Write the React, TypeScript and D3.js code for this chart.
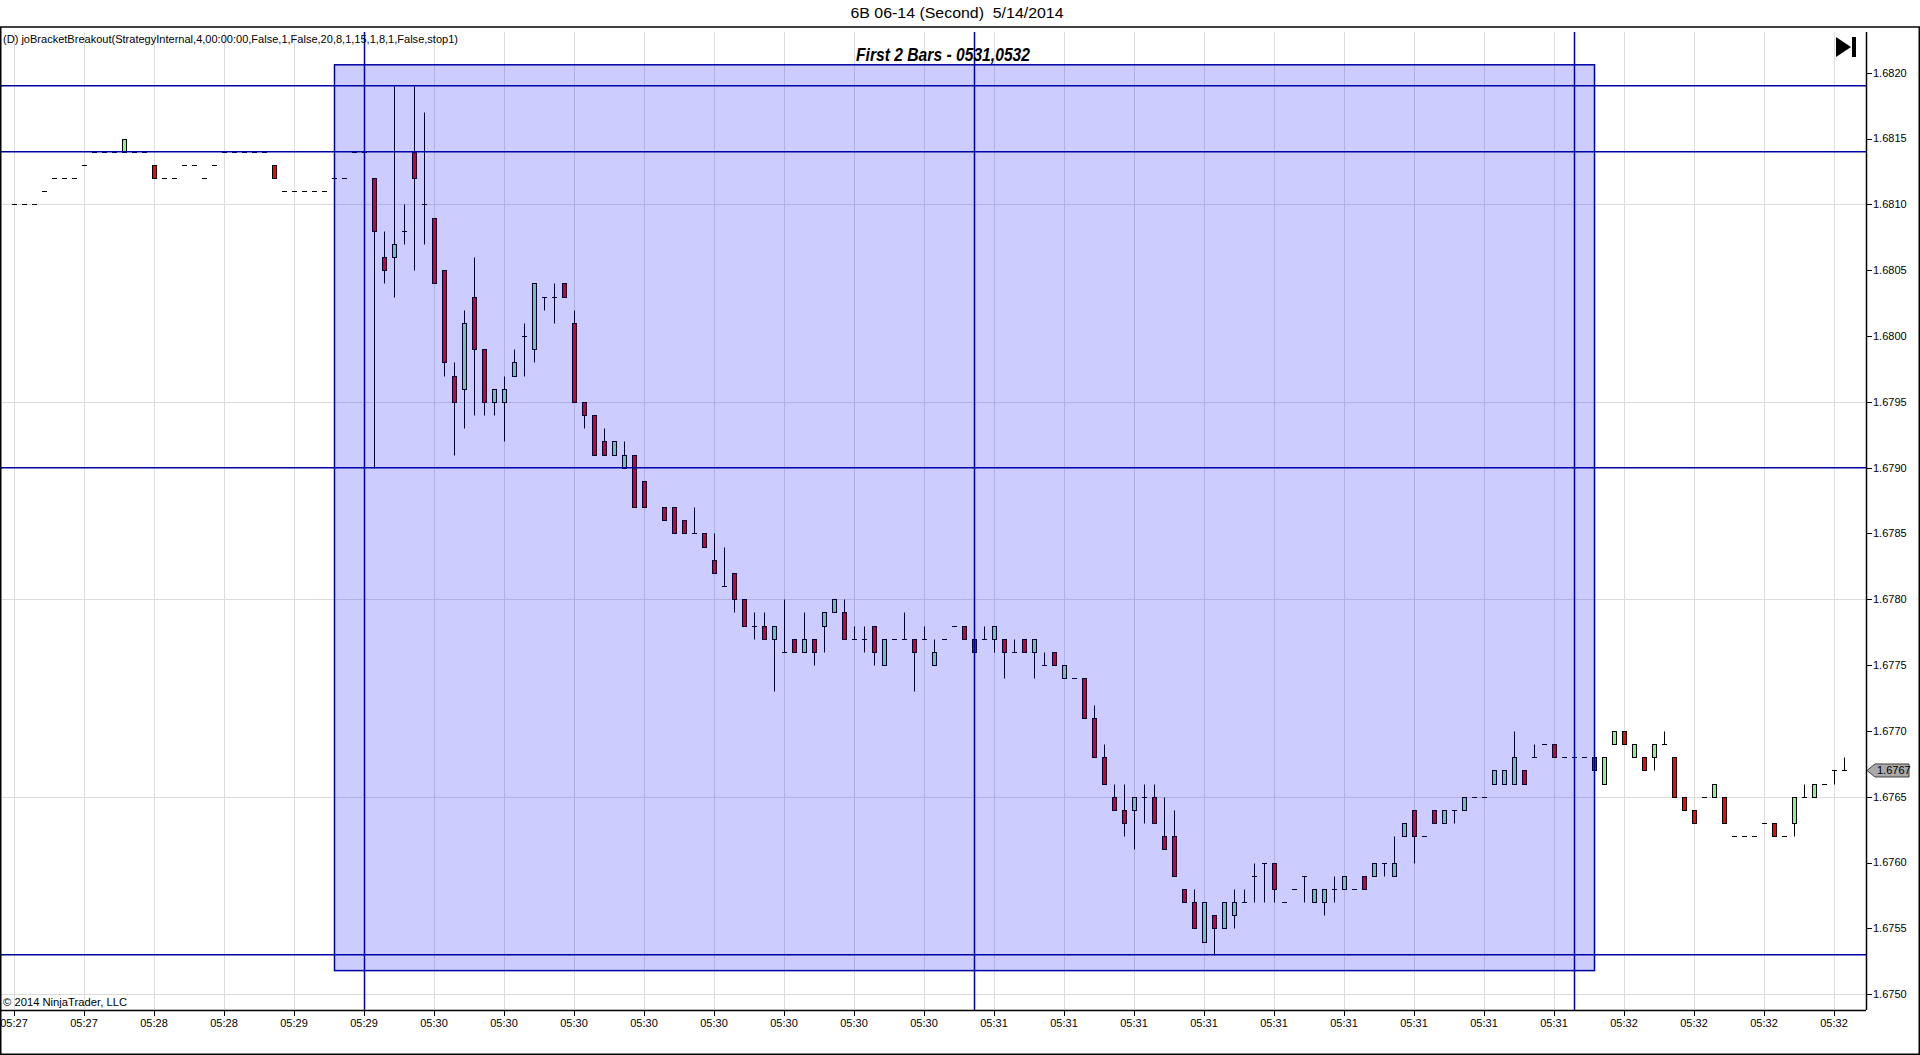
import React from 'react';
import * as d3 from 'd3';

const chartTitle = '6B 06-14 (Second)  5/14/2014';
const indicatorLabel = '(D) joBracketBreakout(StrategyInternal,4,00:00:00,False,1,False,20,8,1,15,1,8,1,False,stop1)';
const boxLabel = 'First 2 Bars - 0531,0532';
const copyrightText = '© 2014 NinjaTrader, LLC';
const lastPriceText = '1.6767';

const opens = [
  1.6810,1.6810,1.6810,1.6811,1.6812,1.6812,1.6812,1.6813,1.6814,1.6814,
  1.6814,1.6814,1.6814,1.6814,1.6813,1.6812,1.6812,1.6813,1.6813,1.6812,
  1.6813,1.6814,1.6814,1.6814,1.6814,1.6814,1.6813,1.6811,1.6811,1.6811,
  1.6811,1.6811,1.6812,1.6812,1.6814,1.6814,1.6812,1.6806,1.6806,1.6808,
  1.6814,1.6810,1.6809,1.6805,1.6797,1.6796,1.6803,1.6799,1.6795,1.6795,
  1.6797,1.6800,1.6799,1.6803,1.6803,1.6804,1.6801,1.6795,1.6794,1.6792,
  1.6791,1.6790,1.6791,1.6789,null,1.6787,1.6787,1.6786,1.6785,1.6785,
  1.6783,1.6781,1.6782,1.6780,1.6778,1.6778,1.6777,1.6776,1.6777,1.6776,
  1.6777,1.6778,1.6779,1.6779,1.6777,1.6777,1.6778,1.6775,1.6777,1.6777,
  1.6777,1.6777,1.6775,1.6777,1.6778,1.6778,1.6777,1.6777,1.6777,1.6777,
  1.6776,1.6777,1.6776,1.6775,1.6776,1.6774,1.6774,1.6774,1.6771,1.6768,
  1.6765,1.6764,1.6764,1.6765,1.6765,1.6762,1.6762,1.6758,1.6757,1.6754,
  1.6756,1.6755,1.6756,1.6757,1.6759,1.6760,1.6760,1.6757,1.6758,1.6759,
  1.6757,1.6757,1.6758,1.6758,1.6758,1.6759,1.6759,1.6760,1.6759,1.6762,
  1.6764,1.6762,1.6764,1.6763,1.6764,1.6764,1.6765,1.6765,1.6766,1.6766,
  1.6766,1.6767,1.6768,1.6769,1.6769,1.6768,1.6768,1.6768,1.6768,1.6766,
  1.6769,1.6770,1.6768,1.6768,1.6768,1.6769,1.6768,1.6765,1.6764,1.6765,
  1.6765,1.6765,1.6762,1.6762,1.6762,1.6763,1.6763,1.6762,1.6763,1.6765,
  1.6765,1.6766,1.6767,1.6767,
];
const highs = [
  1.6810,1.6810,1.6810,1.6811,1.6812,1.6812,1.6812,1.6813,1.6814,1.6814,
  1.6814,1.6815,1.6814,1.6814,1.6813,1.6812,1.6812,1.6813,1.6813,1.6812,
  1.6813,1.6814,1.6814,1.6814,1.6814,1.6814,1.6813,1.6811,1.6811,1.6811,
  1.6811,1.6811,1.6812,1.6812,1.6814,1.6814,1.6812,1.6808,1.6819,1.6810,
  1.6819,1.6817,1.6809,1.6805,1.6798,1.6802,1.6806,1.6799,1.6796,1.6797,
  1.6799,1.6801,1.6804,1.6803,1.6804,1.6804,1.6802,1.6795,1.6794,1.6793,
  1.6792,1.6792,1.6791,1.6789,null,1.6787,1.6787,1.6786,1.6787,1.6785,
  1.6785,1.6784,1.6782,1.6780,1.6779,1.6779,1.6778,1.6780,1.6777,1.6779,
  1.6777,1.6779,1.6780,1.6780,1.6778,1.6778,1.6778,1.6777,1.6777,1.6779,
  1.6777,1.6778,1.6777,1.6777,1.6778,1.6778,1.6777,1.6778,1.6778,1.6777,
  1.6777,1.6777,1.6777,1.6776,1.6776,1.6775,1.6774,1.6774,1.6772,1.6769,
  1.6766,1.6766,1.6765,1.6766,1.6766,1.6765,1.6764,1.6758,1.6758,1.6757,
  1.6756,1.6757,1.6758,1.6758,1.6760,1.6760,1.6760,1.6757,1.6758,1.6759,
  1.6758,1.6758,1.6759,1.6759,1.6758,1.6759,1.6760,1.6760,1.6762,1.6763,
  1.6764,1.6762,1.6764,1.6764,1.6764,1.6765,1.6765,1.6765,1.6767,1.6767,
  1.6770,1.6767,1.6769,1.6769,1.6769,1.6768,1.6768,1.6768,1.6768,1.6768,
  1.6770,1.6770,1.6769,1.6768,1.6769,1.6770,1.6768,1.6765,1.6764,1.6765,
  1.6766,1.6765,1.6762,1.6762,1.6762,1.6763,1.6763,1.6762,1.6765,1.6766,
  1.6766,1.6766,1.6767,1.6768,
];
const lows = [
  1.6810,1.6810,1.6810,1.6811,1.6812,1.6812,1.6812,1.6813,1.6814,1.6814,
  1.6814,1.6814,1.6814,1.6814,1.6812,1.6812,1.6812,1.6813,1.6813,1.6812,
  1.6813,1.6814,1.6814,1.6814,1.6814,1.6814,1.6812,1.6811,1.6811,1.6811,
  1.6811,1.6811,1.6812,1.6812,1.6814,1.6814,1.6790,1.6804,1.6803,1.6807,
  1.6805,1.6807,1.6804,1.6797,1.6791,1.6793,1.6794,1.6794,1.6794,1.6792,
  1.6797,1.6797,1.6798,1.6802,1.6801,1.6803,1.6795,1.6793,1.6791,1.6791,
  1.6791,1.6790,1.6787,1.6787,null,1.6786,1.6785,1.6785,1.6785,1.6784,
  1.6782,1.6781,1.6779,1.6778,1.6777,1.6777,1.6773,1.6776,1.6776,1.6776,
  1.6775,1.6776,1.6779,1.6777,1.6777,1.6776,1.6775,1.6775,1.6777,1.6777,
  1.6773,1.6777,1.6775,1.6777,1.6778,1.6777,1.6776,1.6777,1.6776,1.6774,
  1.6776,1.6776,1.6774,1.6775,1.6775,1.6774,1.6774,1.6771,1.6768,1.6766,
  1.6764,1.6762,1.6761,1.6763,1.6763,1.6761,1.6759,1.6757,1.6755,1.6754,
  1.6753,1.6755,1.6755,1.6757,1.6757,1.6757,1.6757,1.6757,1.6758,1.6757,
  1.6757,1.6756,1.6757,1.6758,1.6758,1.6758,1.6759,1.6759,1.6759,1.6762,
  1.6760,1.6762,1.6763,1.6763,1.6763,1.6764,1.6765,1.6765,1.6766,1.6766,
  1.6766,1.6766,1.6768,1.6769,1.6768,1.6768,1.6768,1.6768,1.6767,1.6766,
  1.6769,1.6769,1.6768,1.6767,1.6767,1.6769,1.6765,1.6764,1.6763,1.6765,
  1.6765,1.6763,1.6762,1.6762,1.6762,1.6763,1.6762,1.6762,1.6762,1.6765,
  1.6765,1.6766,1.6766,1.6767,
];
const closes = [
  1.6810,1.6810,1.6810,1.6811,1.6812,1.6812,1.6812,1.6813,1.6814,1.6814,
  1.6814,1.6815,1.6814,1.6814,1.6812,1.6812,1.6812,1.6813,1.6813,1.6812,
  1.6813,1.6814,1.6814,1.6814,1.6814,1.6814,1.6812,1.6811,1.6811,1.6811,
  1.6811,1.6811,1.6812,1.6812,1.6814,1.6814,1.6808,1.6805,1.6807,1.6808,
  1.6812,1.6810,1.6804,1.6798,1.6795,1.6801,1.6799,1.6795,1.6796,1.6796,
  1.6798,1.6800,1.6804,1.6803,1.6803,1.6803,1.6795,1.6794,1.6791,1.6791,
  1.6792,1.6791,1.6787,1.6787,null,1.6786,1.6785,1.6785,1.6785,1.6784,
  1.6782,1.6781,1.6780,1.6778,1.6778,1.6777,1.6778,1.6776,1.6776,1.6777,
  1.6776,1.6779,1.6780,1.6777,1.6777,1.6777,1.6776,1.6777,1.6777,1.6777,
  1.6776,1.6777,1.6776,1.6777,1.6778,1.6777,1.6776,1.6777,1.6778,1.6776,
  1.6776,1.6776,1.6777,1.6775,1.6775,1.6775,1.6774,1.6771,1.6768,1.6766,
  1.6764,1.6763,1.6765,1.6765,1.6763,1.6761,1.6759,1.6757,1.6755,1.6757,
  1.6755,1.6757,1.6757,1.6757,1.6759,1.6760,1.6758,1.6757,1.6758,1.6759,
  1.6758,1.6758,1.6758,1.6759,1.6758,1.6758,1.6760,1.6760,1.6760,1.6763,
  1.6762,1.6762,1.6763,1.6764,1.6764,1.6765,1.6765,1.6765,1.6767,1.6767,
  1.6768,1.6766,1.6768,1.6769,1.6768,1.6768,1.6768,1.6768,1.6767,1.6768,
  1.6770,1.6769,1.6769,1.6767,1.6769,1.6769,1.6765,1.6764,1.6763,1.6765,
  1.6766,1.6763,1.6762,1.6762,1.6762,1.6763,1.6762,1.6762,1.6765,1.6765,
  1.6766,1.6766,1.6767,1.6767,
];

const timeLabels = [
  '05:27','05:27','05:28','05:28','05:29','05:29',
  '05:30','05:30','05:30','05:30','05:30','05:30','05:30','05:30',
  '05:31','05:31','05:31','05:31','05:31','05:31','05:31','05:31','05:31',
  '05:32','05:32','05:32','05:32',
];
const barsPerLabel = 7;
const priceTicks = d3.range(0, 15).map((k) => +(1.675 + k * 0.0005).toFixed(4));
const priceGrid = [1.675, 1.6765, 1.678, 1.6795, 1.681];
const bracketLevels = [1.6819, 1.6814, 1.679, 1.6753];
const markerBars = [35, 96, 156];
const boxBars = [32, 158];
const boxPrices = [1.67518, 1.68206];
const lastPrice = 1.6767;

const FONT = "'Liberation Sans', Arial, Helvetica, sans-serif";

export default function App() {
  React.useEffect(() => {
    document.body.style.margin = '0';
    document.body.style.overflow = 'hidden';
  }, []);

  const W = 1920;
  const H = 1055;
  const plotL = 0;
  const plotR = 1866;
  const plotT = 32;
  const plotB = 1010;

  const x = d3.scaleLinear().domain([0, 183]).range([14, 1844]);
  const y = d3.scaleLinear().domain([1.675, 1.682]).range([994.3, 72.7]);
  const px = (v: number) => Math.round(v) + 0.5;

  const blue = '#0000a8';
  const gridColor = '#dcdcdc';

  const gridXs = timeLabels.map((_, k) => x(k * barsPerLabel));

  const candles = opens.map((o, i) => {
    if (o == null) return null;
    const h = highs[i] as number;
    const l = lows[i] as number;
    const c = closes[i] as number;
    const cx = px(x(i));
    const yO = y(o);
    const yC = y(c);
    const flat = Math.abs(yO - yC) < 0.5;
    const top = px(Math.min(yO, yC));
    const bot = px(Math.max(yO, yC));
    return (
      <g key={i}>
        {h !== l && (
          <line x1={cx} x2={cx} y1={px(y(h))} y2={px(y(l))} stroke="#000" strokeWidth={1} />
        )}
        {flat ? (
          <line x1={cx - 2.5} x2={cx + 2.5} y1={px(yO)} y2={px(yO)} stroke="#000" strokeWidth={1} />
        ) : (
          <rect
            x={cx - 2}
            y={top}
            width={4}
            height={bot - top}
            fill={c > o ? '#90ee90' : '#ff0000'}
            stroke="#000"
            strokeWidth={1}
          />
        )}
      </g>
    );
  });

  const yLast = y(lastPrice);

  return (
    <svg
      width={W}
      height={H}
      style={{ position: 'absolute', left: 0, top: 0, display: 'block', background: '#fff' }}
      fontFamily={FONT}
    >
      <defs>
        <clipPath id="plotClip">
          <rect x={plotL} y={plotT} width={plotR - plotL} height={plotB - plotT} />
        </clipPath>
      </defs>
      <rect x={0} y={0} width={W} height={H} fill="#fff" />

      {/* title */}
      <text
        x={957}
        y={18}
        fontSize={14}
        textAnchor="middle"
        fill="#000"
        textLength={213}
        lengthAdjust="spacingAndGlyphs"
        style={{ whiteSpace: 'pre' }}
      >
        {chartTitle}
      </text>

      <g clipPath="url(#plotClip)">
        {/* grid */}
        {gridXs.map((gx, k) => (
          <line key={'gx' + k} x1={px(gx)} x2={px(gx)} y1={plotT} y2={plotB} stroke={gridColor} strokeWidth={1} />
        ))}
        {priceGrid.map((p) => (
          <line key={'gy' + p} x1={plotL} x2={plotR} y1={px(y(p))} y2={px(y(p))} stroke={gridColor} strokeWidth={1} />
        ))}

        {/* candles */}
        {candles}

        {/* bracket box */}
        <rect
          x={px(x(boxBars[0]))}
          y={y(boxPrices[1])}
          width={x(boxBars[1]) - x(boxBars[0])}
          height={y(boxPrices[0]) - y(boxPrices[1])}
          fill="#0000ff"
          fillOpacity={0.2}
          stroke={blue}
          strokeWidth={1.5}
        />

        {/* bracket levels */}
        {bracketLevels.map((p) => (
          <line key={'bl' + p} x1={plotL} x2={plotR} y1={y(p)} y2={y(p)} stroke={blue} strokeWidth={1.5} />
        ))}
        {markerBars.map((b) => (
          <line key={'mb' + b} x1={px(x(b))} x2={px(x(b))} y1={plotT} y2={plotB} stroke={blue} strokeWidth={1.5} />
        ))}
      </g>

      {/* labels inside plot */}
      <text x={3} y={43} fontSize={11} fill="#000" textLength={455} lengthAdjust="spacingAndGlyphs">
        {indicatorLabel}
      </text>
      <text
        x={943}
        y={61}
        fontSize={18}
        fontWeight="bold"
        fontStyle="italic"
        textAnchor="middle"
        fill="#000"
        textLength={174}
        lengthAdjust="spacingAndGlyphs"
      >
        {boxLabel}
      </text>
      <text x={3} y={1006} fontSize={11} fill="#000" textLength={124} lengthAdjust="spacingAndGlyphs">
        {copyrightText}
      </text>

      {/* play-to-end icon */}
      <polygon points="1836,37 1836,57 1851,47" fill="#000" />
      <rect x={1852} y={37} width={4} height={20} fill="#000" />

      {/* x axis */}
      <line x1={plotL} x2={plotR} y1={plotB + 0.5} y2={plotB + 0.5} stroke="#000" strokeWidth={1.5} />
      {timeLabels.map((t, k) => (
        <g key={'xt' + k}>
          <line x1={px(gridXs[k])} x2={px(gridXs[k])} y1={plotB} y2={plotB + 6} stroke="#000" strokeWidth={1} />
          <text x={gridXs[k]} y={1027} fontSize={11} textAnchor="middle" fill="#000">
            {t}
          </text>
        </g>
      ))}

      {/* y axis */}
      <line x1={plotR + 0.5} x2={plotR + 0.5} y1={plotT} y2={plotB} stroke="#000" strokeWidth={1.5} />
      {priceTicks.map((p) => (
        <g key={'yt' + p}>
          <line x1={plotR} x2={plotR + 6} y1={px(y(p))} y2={px(y(p))} stroke="#000" strokeWidth={1} />
          <text x={1873} y={y(p)} dy="0.35em" fontSize={11} fill="#000">
            {p.toFixed(4)}
          </text>
        </g>
      ))}

      {/* last price marker */}
      <polygon
        points={`${plotR + 1},${yLast} ${plotR + 9},${yLast - 6.5} 1909,${yLast - 6.5} 1909,${yLast + 6.5} ${plotR + 9},${yLast + 6.5}`}
        fill="#a9a9a9"
        stroke="#404040"
        strokeWidth={1}
      />
      <text x={1877} y={yLast} dy="0.35em" fontSize={11} fill="#000">
        {lastPriceText}
      </text>

      {/* window frame */}
      <rect x={0.75} y={27} width={W - 1.5} height={H - 27.75} fill="none" stroke="#000" strokeWidth={1.5} />
    </svg>
  );
}
